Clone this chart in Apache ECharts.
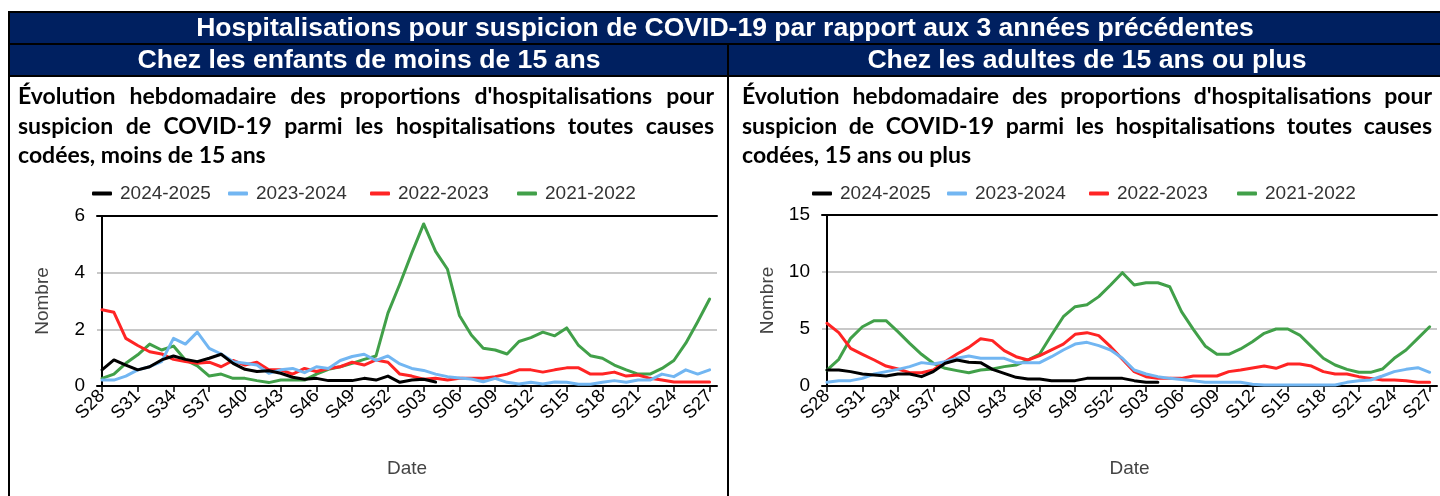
<!DOCTYPE html>
<html>
<head>
<meta charset="utf-8">
<script src="https://cdn.jsdelivr.net/npm/echarts@6/dist/echarts.min.js"></script>
<style>
  html, body { margin: 0; padding: 0; background: #ffffff; }
  #chart { width: 1440px; height: 496px; }
</style>
</head>
<body>
<div id="chart"></div>
<script>
// Weekly labels, S28 of one year to S27 of the next
const weeks = ['S28','S29','S30','S31','S32','S33','S34','S35','S36','S37','S38','S39','S40',
  'S41','S42','S43','S44','S45','S46','S47','S48','S49','S50','S51','S52',
  'S01','S02','S03','S04','S05','S06','S07','S08','S09','S10','S11','S12','S13','S14',
  'S15','S16','S17','S18','S19','S20','S21','S22','S23','S24','S25','S26','S27'];

const seasons = ['2024-2025', '2023-2024', '2022-2023', '2021-2022'];

// Children under 15
const enfants2425 = [0.57,0.92,0.74,0.57,0.68,0.92,1.06,0.94,0.86,0.98,1.12,0.80,0.59,0.51,0.54,
  0.45,0.31,0.24,0.27,0.19,0.19,0.19,0.27,0.21,0.35,0.13,0.21,0.24,0.14];
const enfants2324 = [0.21,0.21,0.35,0.57,0.68,0.86,1.68,1.48,1.90,1.33,1.13,0.86,0.80,0.74,0.45,
  0.57,0.62,0.47,0.68,0.62,0.90,1.04,1.12,0.90,1.06,0.78,0.62,0.55,0.42,0.33,0.28,0.25,0.15,0.27,
  0.13,0.07,0.13,0.07,0.14,0.13,0.06,0.06,0.13,0.19,0.13,0.21,0.21,0.42,0.33,0.57,0.42,0.57];
const enfants2223 = [2.69,2.60,1.68,1.43,1.21,1.13,0.94,0.86,0.80,0.84,0.68,0.90,0.74,0.84,0.57,
  0.57,0.42,0.62,0.51,0.62,0.68,0.84,0.74,0.92,0.84,0.42,0.35,0.24,0.27,0.21,0.27,0.27,0.27,0.33,
  0.42,0.57,0.57,0.49,0.57,0.64,0.64,0.42,0.42,0.49,0.35,0.39,0.27,0.21,0.14,0.14,0.14,0.14];
const enfants2122 = [0.27,0.42,0.80,1.10,1.48,1.27,1.41,0.92,0.71,0.35,0.42,0.27,0.27,0.19,0.12,
  0.21,0.21,0.21,0.42,0.59,0.68,0.80,0.94,1.06,2.57,3.60,4.69,5.72,4.75,4.12,2.49,1.80,1.33,1.27,
  1.13,1.57,1.71,1.90,1.77,2.05,1.43,1.07,0.98,0.74,0.57,0.42,0.42,0.62,0.90,1.51,2.27,3.07];

// Adults 15 and over
const adultes2425 = [1.40,1.40,1.26,1.05,0.96,0.88,1.05,1.05,0.82,1.26,1.99,2.28,2.08,2.05,1.46,
  1.11,0.76,0.61,0.61,0.47,0.47,0.47,0.67,0.67,0.67,0.67,0.47,0.32,0.32];
const adultes2324 = [0.32,0.47,0.47,0.67,1.05,1.26,1.46,1.70,2.05,1.93,2.13,2.43,2.63,2.43,2.43,
  2.43,2.05,2.05,2.05,2.57,3.16,3.68,3.83,3.54,3.16,2.43,1.40,1.05,0.82,0.67,0.58,0.47,0.32,0.32,
  0.32,0.32,0.15,0.09,0.09,0.09,0.09,0.09,0.09,0.09,0.32,0.47,0.53,0.88,1.26,1.46,1.61,1.20];
const adultes2223 = [5.50,4.68,3.30,2.78,2.28,1.75,1.49,1.17,1.17,1.40,2.13,2.81,3.39,4.15,3.98,
  3.10,2.57,2.28,2.66,3.16,3.68,4.53,4.68,4.42,3.45,2.34,1.26,0.82,0.67,0.67,0.67,0.88,0.88,0.88,
  1.26,1.40,1.58,1.75,1.55,1.93,1.93,1.75,1.26,1.05,1.05,0.82,0.67,0.53,0.53,0.47,0.32,0.32];
const adultes2122 = [1.40,2.34,4.18,5.20,5.73,5.73,4.77,3.74,2.78,1.99,1.55,1.35,1.17,1.40,1.49,
  1.70,1.84,2.28,2.81,4.47,6.08,6.96,7.13,7.84,8.86,9.94,8.86,9.06,9.06,8.71,6.52,4.97,3.51,2.78,
  2.78,3.25,3.89,4.62,5.00,5.00,4.47,3.45,2.43,1.84,1.46,1.20,1.20,1.49,2.43,3.16,4.18,5.20];

const yTicksEnfants = { max: 6, step: 2 };
const yTicksAdultes = { max: 15, step: 5 };

const mainTitle = 'Hospitalisations pour suspicion de COVID-19 par rapport aux 3 années précédentes';
const panelHeads = ['Chez les enfants de moins de 15 ans', 'Chez les adultes de 15 ans ou plus'];
const panelTitles = [
  ["Évolution hebdomadaire des proportions d'hospitalisations pour",
   'suspicion de COVID-19 parmi les hospitalisations toutes causes',
   'codées, moins de 15 ans'],
  ["Évolution hebdomadaire des proportions d'hospitalisations pour",
   'suspicion de COVID-19 parmi les hospitalisations toutes causes',
   'codées, 15 ans ou plus']
];

const colors = { '2024-2025': '#000000', '2023-2024': '#72b6f2', '2022-2023': '#ff2424', '2021-2022': '#41a049' };
const NAVY = '#002060';
const SANS = '"Liberation Sans", Arial, sans-serif';
const TITLE_FONT = 'Lato';

// ---- text measuring for the justified paragraph ----
const mctx = document.createElement('canvas').getContext('2d');
function measure(str, weight, size, family) {
  mctx.font = weight + ' ' + size + 'px ' + family;
  return mctx.measureText(str).width;
}

function justifiedLines(lines, left, right, top, lineStep, size) {
  const out = [];
  lines.forEach((line, li) => {
    const words = line.split(' ');
    const widths = words.map(w => measure(w, 'bold', size, TITLE_FONT));
    const total = widths.reduce((a, b) => a + b, 0);
    const isLast = li === lines.length - 1;
    const gap = isLast ? measure(' ', 'bold', size, TITLE_FONT)
                       : (right - left - total) / (words.length - 1);
    let x = left;
    words.forEach((w, wi) => {
      out.push({
        type: 'text', x: x, y: top + li * lineStep, silent: true,
        style: { text: w, fontFamily: TITLE_FONT, fontWeight: 'bold', fontSize: size,
                 fill: '#000', verticalAlign: 'middle', align: 'left' }
      });
      x += widths[wi] + gap;
    });
  });
  return out;
}

function fitSize(str, target, base) {
  return base * target / measure(str, 'bold', base, SANS);
}

// ---- frame and headers ----
const headSize = fitSize(mainTitle, 1058, 23);
const subSize = fitSize(panelHeads[0], 463, 23);

const graphics = [
  { type: 'rect', shape: { x: 9, y: 12, width: 1440, height: 32 }, style: { fill: NAVY, stroke: '#000', lineWidth: 2 }, silent: true },
  { type: 'rect', shape: { x: 9, y: 44, width: 1440, height: 32 }, style: { fill: NAVY, stroke: '#000', lineWidth: 2 }, silent: true },
  { type: 'line', shape: { x1: 9, y1: 12, x2: 9, y2: 496 }, style: { stroke: '#000', lineWidth: 2 }, silent: true },
  { type: 'line', shape: { x1: 728, y1: 44, x2: 728, y2: 496 }, style: { stroke: '#000', lineWidth: 2 }, silent: true },
  { type: 'text', x: 725, y: 29, silent: true,
    style: { text: mainTitle, fontFamily: SANS, fontWeight: 'bold', fontSize: headSize, fill: '#fff', align: 'center', verticalAlign: 'middle' } },
  { type: 'text', x: 369, y: 61, silent: true,
    style: { text: panelHeads[0], fontFamily: SANS, fontWeight: 'bold', fontSize: subSize, fill: '#fff', align: 'center', verticalAlign: 'middle' } },
  { type: 'text', x: 1087, y: 61, silent: true,
    style: { text: panelHeads[1], fontFamily: SANS, fontWeight: 'bold', fontSize: subSize, fill: '#fff', align: 'center', verticalAlign: 'middle' } }
].concat(
  justifiedLines(panelTitles[0], 18, 714, 97, 29.5, 23),
  justifiedLines(panelTitles[1], 742, 1432, 97, 29.5, 23)
);

// ---- axes ----
const tickIdx = weeks.map((w, i) => i).filter(i => i % 3 === 0);
const X_MIN = -0.42, X_MAX = 51.62;

function bottomAxis(gridIndex) {
  return {
    type: 'value', gridIndex: gridIndex, min: X_MIN, max: X_MAX, position: 'bottom',
    name: 'Date', nameLocation: 'middle', nameGap: 73,
    nameTextStyle: { fontFamily: SANS, fontSize: 19, color: '#444' },
    axisLine: { show: true, lineStyle: { color: '#000', width: 2 } },
    axisTick: { show: true, customValues: tickIdx, length: 6, lineStyle: { color: '#000', width: 1.5 } },
    axisLabel: { customValues: tickIdx, rotate: 45, margin: 7, fontFamily: SANS, fontSize: 18.5, color: '#000',
                 formatter: v => weeks[Math.round(v)] },
    splitLine: { show: false }
  };
}
function topAxis(gridIndex) {
  return {
    type: 'value', gridIndex: gridIndex, min: X_MIN, max: X_MAX, position: 'top',
    axisLine: { show: true, lineStyle: { color: '#000', width: 2 } },
    axisTick: { show: false }, axisLabel: { show: false }, splitLine: { show: false }
  };
}
function leftAxis(gridIndex, t) {
  return {
    type: 'value', gridIndex: gridIndex, min: 0, max: t.max, interval: t.step,
    name: 'Nombre', nameLocation: 'middle', nameRotate: 90, nameGap: 45,
    nameTextStyle: { fontFamily: SANS, fontSize: 19, color: '#444' },
    axisLine: { show: true, lineStyle: { color: '#000', width: 2 } },
    axisTick: { show: false },
    axisLabel: { margin: 12, fontFamily: SANS, fontSize: 19, color: '#000' },
    splitLine: { show: true, lineStyle: { color: '#c8c8c8', width: 2 } }
  };
}

function lineSeries(name, values, gridIndex) {
  return {
    type: 'line', name: name, xAxisIndex: gridIndex * 2, yAxisIndex: gridIndex,
    data: values.map((v, i) => [i, v]),
    showSymbol: false, symbol: 'none', smooth: false,
    lineStyle: { color: colors[name], width: 3, join: 'round', cap: 'round' },
    itemStyle: { color: colors[name] },
    z: 10 + (3 - seasons.indexOf(name)),
    animation: false
  };
}

const enfants = { '2024-2025': enfants2425, '2023-2024': enfants2324, '2022-2023': enfants2223, '2021-2022': enfants2122 };
const adultes = { '2024-2025': adultes2425, '2023-2024': adultes2324, '2022-2023': adultes2223, '2021-2022': adultes2122 };

const drawOrder = ['2021-2022', '2022-2023', '2023-2024', '2024-2025'];
const series = [];
drawOrder.forEach(n => series.push(lineSeries(n, enfants[n], 0)));
drawOrder.forEach(n => series.push(lineSeries(n, adultes[n], 1)));

// legend entries, placed one by one
const legendLeft = [[92, 228, 370, 517], [812, 947, 1089, 1237]];
const legends = [];
[0, 1].forEach(p => {
  seasons.forEach((s, k) => {
    legends.push({
      data: [s], left: legendLeft[p][k], top: 184, padding: 0,
      icon: 'roundRect', itemWidth: 20, itemHeight: 4,
      textStyle: { fontFamily: SANS, fontSize: 19, color: '#333', padding: [0, 0, 0, 3] },
      selectedMode: false
    });
  });
});

const chart = echarts.init(document.getElementById('chart'), null, { renderer: 'canvas' });
chart.setOption({
  animation: false,
  backgroundColor: '#ffffff',
  graphic: { elements: graphics },
  legend: legends,
  grid: [
    { left: 97, top: 216, width: 620, height: 170 },
    { left: 822, top: 215, width: 615, height: 171 }
  ],
  xAxis: [bottomAxis(0), topAxis(0), bottomAxis(1), topAxis(1)],
  yAxis: [leftAxis(0, yTicksEnfants), leftAxis(1, yTicksAdultes)],
  series: series
});
</script>
</body>
</html>
